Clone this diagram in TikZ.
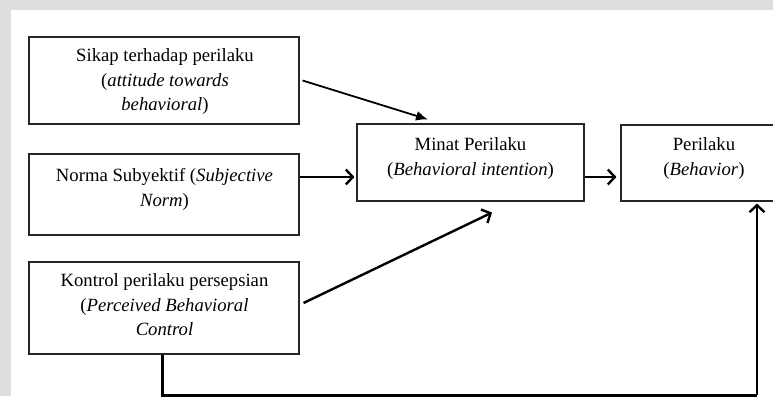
\documentclass[tikz,border=0pt]{standalone}
\usepackage{fontspec}
\setmainfont{Liberation Serif}
\usetikzlibrary{arrows.meta}
\begin{document}
\begin{tikzpicture}[x=1pt,y=-1pt,
  box/.style={draw=black!85,line width=1.1pt,rectangle,inner sep=0pt},
  lbl/.style={align=center,inner sep=0pt,text=black,font=\fontsize{18.7}{24.5}\selectfont},
  chev/.style={line width=2.4pt,-{Straight Barb[length=7pt,width=15pt,line width=2.4pt]}},
  tri/.style={line width=1.8pt,-{Latex[length=12pt,width=10pt]}},
  thick line/.style={line width=3pt}]
\useasboundingbox (0,0) rectangle (773,396);
\fill[black!13] (0,0) rectangle (773,396);
\fill[white] (11,10) rectangle (773,396);
% boxes
\node[box,minimum width=270pt,minimum height=87pt] (sikap) at (164,80.5) {};
\node[box,minimum width=270pt,minimum height=81pt] (norma) at (164,194.5) {};
\node[box,minimum width=270pt,minimum height=92pt] (kontrol) at (164,308) {};
\node[box,minimum width=227pt,minimum height=77pt] (minat) at (470.5,162.5) {};
\node[box,minimum width=166pt,minimum height=76pt] (perilaku) at (704,163) {};
% labels
\node[lbl] (tsikap) at (165,82) {Sikap terhadap perilaku\\(\textit{attitude towards}\\\textit{behavioral})};
\node[lbl] (tnorma) at (164.5,189.5) {Norma Subyektif (\textit{Subjective}\\\textit{Norm})};
\node[lbl] (tkontrol) at (164.5,305) {Kontrol perilaku persepsian\\(\textit{Perceived Behavioral}\\\textit{Control}};
\node[lbl] (tminat) at (470.5,158.5) {Minat Perilaku\\(\textit{Behavioral intention})};
\node[lbl] (tperilaku) at (704,158.5) {Perilaku\\(\textit{Behavior})};
% connectors
\coordinate (nA) at ([yshift=17.5pt]norma.east);
\coordinate (mA) at ([yshift=-14.5pt]minat.east);
\draw[tri] ([xshift=3pt]sikap.east) -- ([xshift=-42.5pt,yshift=4pt]minat.north);
\draw[chev] (nA) -- ([xshift=-2pt]nA -| minat.west);
\draw[chev] (mA) -- ([xshift=-4pt]mA -| perilaku.west);
\draw[chev] ([xshift=4pt,yshift=5pt]kontrol.east) -- ([xshift=21.5pt,yshift=-11pt]minat.south);
\coordinate (k0) at ([xshift=-2pt]kontrol.south);
\coordinate (b1) at (162,395);
\coordinate (b2) at (757,395);
\draw[thick line] (k0) -- (b1) -- (b2) -- ([xshift=53pt]perilaku.south |- b2);
\draw[chev,line width=2.6pt] ([xshift=53pt]perilaku.south |- b2) -- ([xshift=53pt,yshift=-2pt]perilaku.south);
\end{tikzpicture}
\end{document}
